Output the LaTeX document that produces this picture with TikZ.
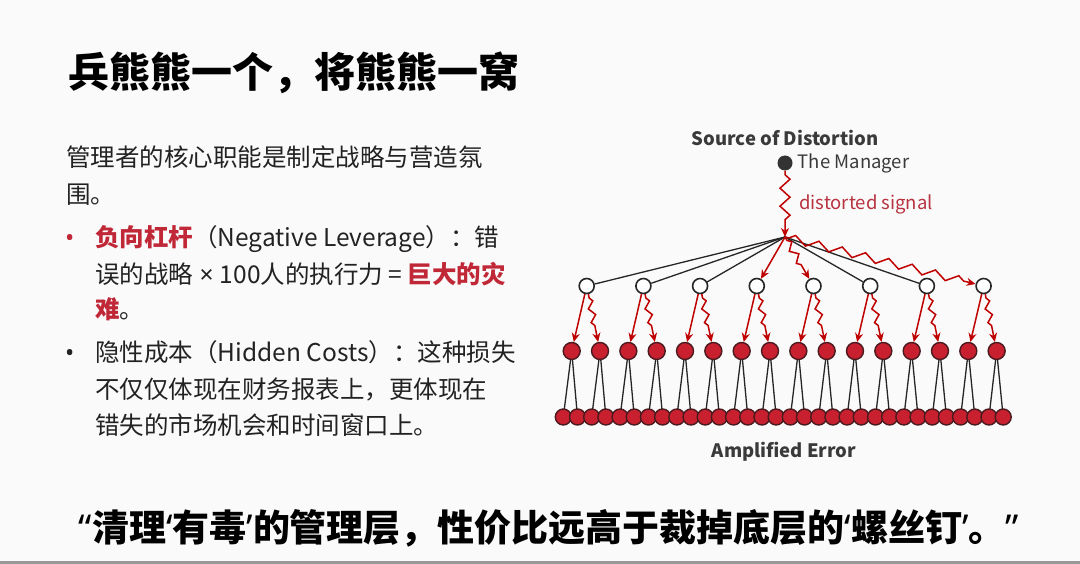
\documentclass[tikz,border=0pt]{standalone}
\usepackage{fontspec}
\setmainfont{Noto Sans CJK SC}
\newfontfamily\latin{Noto Sans}
\newfontfamily\heavy{Noto Sans CJK SC Black}
\usetikzlibrary{arrows.meta,positioning,decorations.pathmorphing,backgrounds}
\definecolor{errRed}{HTML}{C8202F}
\definecolor{errEdge}{HTML}{4A1A1E}
\definecolor{sigRed}{HTML}{B8323F}
\definecolor{inkGray}{HTML}{3A3A3A}
\definecolor{txtDark}{HTML}{222222}
\definecolor{hiRed}{HTML}{C02838}
\definecolor{pageBg}{HTML}{FAFAFA}

\tikzset{
  person/.style={circle, draw=errEdge, fill=errRed, line width=1.4pt, minimum size=16pt, inner sep=0pt},
  lead/.style={circle, draw=black!85, fill=white, line width=1.6pt, minimum size=15pt, inner sep=0pt},
  boss/.style={circle, fill=black!80, minimum size=15pt, inner sep=0pt},
  order/.style={draw=red!75!black, line width=1.5pt, -{Stealth[length=9pt,width=8pt]}},
  noise/.style={order, decorate, decoration={zigzag, segment length=12pt, amplitude=3pt, pre length=4pt, post length=10pt}},
  link/.style={draw=black!85, line width=1.3pt},
  lbl/.style={font=\fontsize{18.5}{22}\selectfont, text=inkGray, inner sep=0pt},
  body/.style={anchor=base west, inner sep=0pt, font=\fontsize{24.5}{30}\selectfont, text=txtDark}
}

\begin{document}
\begin{tikzpicture}[x=1pt, y=-1pt]
  % Page and bottom rule
  \begin{scope}[on background layer]
    \fill[pageBg] (0,0) rectangle (1080,564);
  \end{scope}
  \useasboundingbox (0,0) rectangle (1080,564);
  \fill[black!40] (0,561) rectangle (1080,564);

  % Title
  \node[anchor=base west, inner sep=0pt, text=black, font=\heavy\fontsize{41}{48}\selectfont] (title) at (68,88) {兵熊熊一个，将熊熊一窝};

  % Left column text
  \node[body] (l1) at (66,167) {管理者的核心职能是制定战略与营造氛};
  \node[body] (l2) at (66,204) {围。};
  \node[body, text=hiRed, font=\latin\fontsize{24.5}{30}\selectfont] (dot1) at (65,247) {•};
  \node[body] (l3) at (95,247) {{\color{hiRed}\bfseries 负向杠杆}（Negative Leverage）：错};
  \node[body] (l4) at (95,284) {误的战略{\latin\ × }100人的执行力 = {\color{hiRed}\bfseries 巨大的灾}};
  \node[body] (l5) at (95,319) {{\color{hiRed}\bfseries 难}。};
  \node[body, font=\latin\fontsize{24.5}{30}\selectfont] (dot2) at (65,362) {•};
  \node[body] (l6) at (95,362) {隐性成本（Hidden Costs）：这种损失};
  \node[body] (l7) at (95,399) {不仅仅体现在财务报表上，更体现在};
  \node[body] (l8) at (95,434) {错失的市场机会和时间窗口上。};

  % Tree: manager, managers below, staff
  \node[boss] (mgr) at (785,163) {};
  \node[lbl, right=5pt of mgr] (mgrlbl) {The Manager};
  \node[lbl, above=9pt of mgr, font=\bfseries\fontsize{18.5}{22}\selectfont] (srclbl) {Source of Distortion};
  \coordinate (hub) at (785,237);
  \node[lbl, anchor=west, text=sigRed] (siglbl) at (799,204) {distorted signal};
  \draw[noise, decoration={segment length=18pt, amplitude=5pt, post length=11pt}] (mgr) -- (hub);

  \foreach \i in {1,...,8}
    \node[lead] (a\i) at ({586.7+56.7*(\i-1)},286) {};
  \foreach \j in {1,...,16}
    \node[person, minimum size=17pt] (b\j) at ({571.7+28.33*(\j-1)},351) {};
  \foreach \k in {1,...,32}
    \node[person] (c\k) at ({563.3+14.19*(\k-1)},417) {};

  % Hub to first level
  \foreach \i in {1,2,3,6,7}
    \draw[link] (hub) -- (a\i);
  \draw[order] (hub) -- (a4);
  \draw[noise, decoration={segment length=14pt, amplitude=3.5pt}] (hub) -- (a5);
  \draw[noise, decoration={segment length=24pt, amplitude=4pt, post length=12pt}] (hub) -- (a8);

  % First level to second level
  \foreach \i in {1,...,8}{
    \pgfmathtruncatemacro{\bl}{2*\i-1}
    \pgfmathtruncatemacro{\br}{2*\i}
    \draw[order] (a\i) -- (b\bl);
    \draw[noise, decoration={segment length=14pt, amplitude=3pt, post length=10pt}] (a\i) -- (b\br);
  }

  % Second level to staff
  \begin{scope}[on background layer]
    \foreach \j in {1,...,16}{
      \pgfmathtruncatemacro{\cl}{2*\j-1}
      \pgfmathtruncatemacro{\cr}{2*\j}
      \draw[link] (b\j.center) -- (c\cl.center);
      \draw[link] (b\j.center) -- (c\cr.center);
    }
  \end{scope}

  \node[lbl, font=\bfseries\fontsize{18.5}{22}\selectfont] (amplbl) at (784,452) {Amplified Error};

  % Closing quote
  \node[anchor=base, inner sep=0pt, text=black, font=\heavy\fontsize{37}{40}\selectfont] (quote) at (549,541) {{\latin\bfseries“}清理{\latin\bfseries‘}有毒{\latin\bfseries’}的管理层，性价比远高于裁掉底层的{\latin\bfseries‘}螺丝钉{\latin\bfseries’}。{\latin\bfseries”}};
\end{tikzpicture}
\end{document}
